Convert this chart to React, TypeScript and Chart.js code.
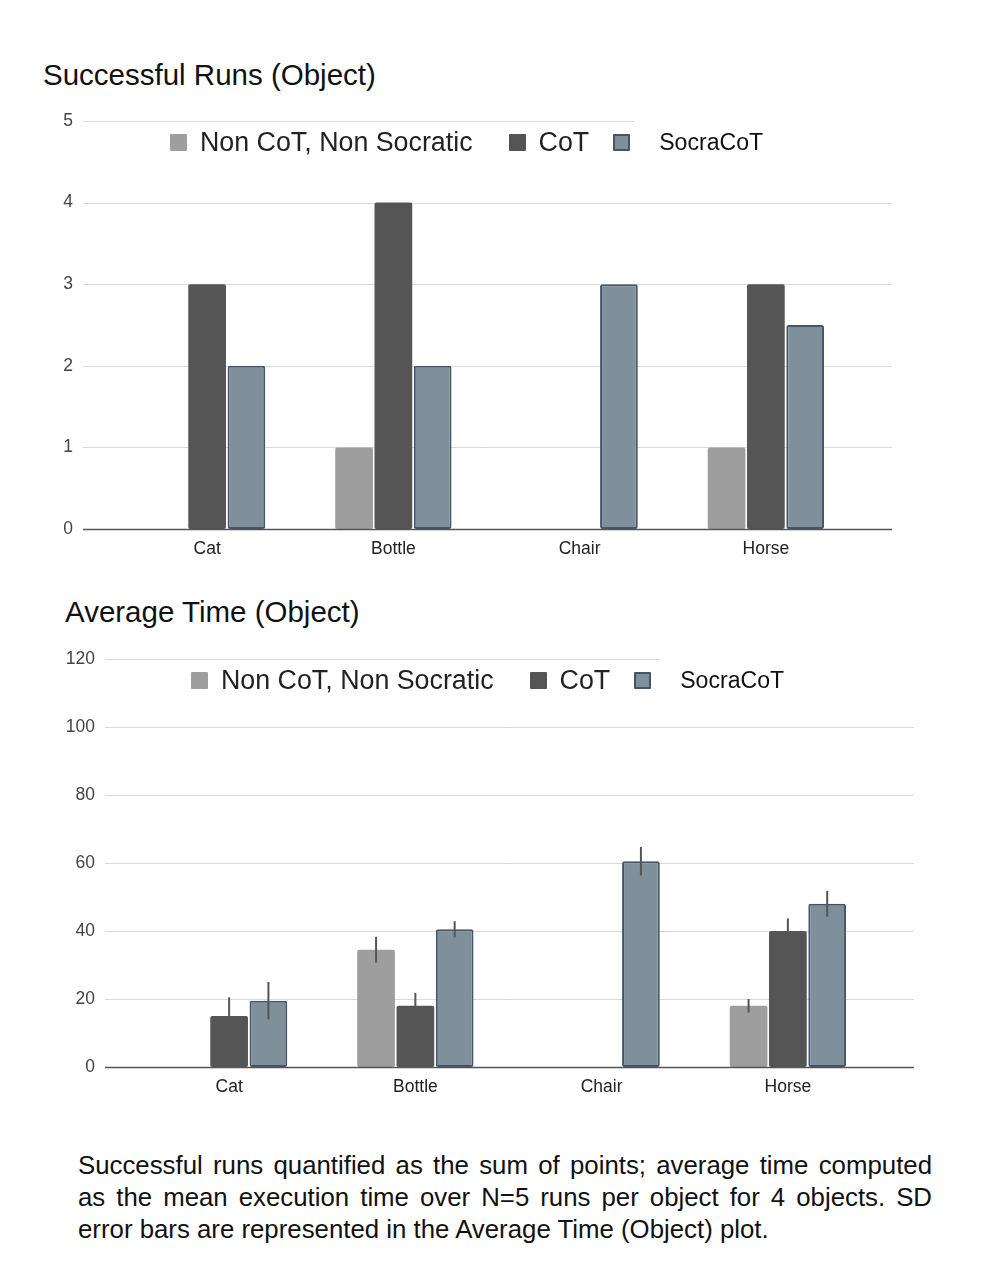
import React, { useEffect, useRef } from 'react';
import { Chart, registerables } from 'chart.js';

Chart.register(...registerables);
Chart.defaults.font.family = "'Liberation Sans', Arial, sans-serif";

const categories = ['Cat', 'Bottle', 'Chair', 'Horse'];
const seriesNames = ['Non CoT, Non Socratic', 'CoT', 'SocraCoT'];

// Successful runs (sum of points)
const runsNonCot = [0, 1, 0, 1];
const runsCot = [3, 4, 0, 3];
const runsSocra = [2, 2, 3, 2.5];

// Average time and SD
const timeNonCot = [0, 34.5, 0, 18];
const timeCot = [15, 18, 0, 40];
const timeSocra = [19.5, 40.5, 60.5, 48];
const sdNonCot = [0, 3.8, 0, 2];
const sdCot = [5.5, 3.8, 0, 3.7];
const sdSocra = [5.5, 2.4, 4.2, 3.8];

const FONT = "'Liberation Sans', Arial, sans-serif";
const COLORS = ['#9e9e9e', '#555555', '#7f909b'];
const SOCRA_BORDER = '#44546a';

interface BarChartProps {
    top: number;
    height: number;
    series: number[][];
    sd?: number[][];
    max: number;
    step: number;
    gridStart: number;
    gridEnd: number;
    topLineEnd: number;
    padRight: number;
}

const BarChart: React.FC<BarChartProps> = ({ top, height, series, sd, max, step, gridStart, gridEnd, topLineEnd, padRight }) => {
    const canvasRef = useRef<HTMLCanvasElement | null>(null);

    useEffect(() => {
        if (!canvasRef.current) return;

        // long horizontal gridlines that reach past the category area
        const gridPlugin = {
            id: 'longGrid',
            beforeDatasetsDraw(chart: any) {
                const { ctx } = chart;
                const y = chart.scales.y;
                ctx.save();
                ctx.lineWidth = 1;
                ctx.strokeStyle = '#d9d9d9';
                y.ticks.forEach((t: any) => {
                    if (t.value === 0) return;
                    const py = Math.round(y.getPixelForValue(t.value)) + 0.5;
                    ctx.beginPath();
                    ctx.moveTo(gridStart, py);
                    ctx.lineTo(t.value === max ? topLineEnd : gridEnd, py);
                    ctx.stroke();
                });
                ctx.restore();
            },
            afterDatasetsDraw(chart: any) {
                const { ctx } = chart;
                const y = chart.scales.y;
                ctx.save();
                if (sd) {
                    ctx.strokeStyle = '#555555';
                    ctx.lineWidth = 2;
                    chart.data.datasets.forEach((ds: any, i: number) => {
                        const meta = chart.getDatasetMeta(i);
                        meta.data.forEach((bar: any, j: number) => {
                            const v = ds.data[j];
                            const e = sd[i][j];
                            if (!v || !e) return;
                            ctx.beginPath();
                            ctx.moveTo(bar.x, y.getPixelForValue(v + e));
                            ctx.lineTo(bar.x, y.getPixelForValue(v - e));
                            ctx.stroke();
                        });
                    });
                }
                const py = Math.round(y.getPixelForValue(0)) + 0.5;
                ctx.strokeStyle = '#555555';
                ctx.lineWidth = 1.3;
                ctx.beginPath();
                ctx.moveTo(gridStart, py);
                ctx.lineTo(gridEnd, py);
                ctx.stroke();
                ctx.restore();
            },
        };

        const chart = new Chart(canvasRef.current, {
            type: 'bar',
            data: {
                labels: categories,
                datasets: series.map((d, i) => ({
                    label: seriesNames[i],
                    data: d,
                    backgroundColor: COLORS[i],
                    borderColor: i === 2 ? SOCRA_BORDER : COLORS[i],
                    borderWidth: i === 2 ? 2 : 0,
                    borderRadius: 2,
                    borderSkipped: false,
                    categoryPercentage: 0.633,
                    barPercentage: 0.96,
                })),
            },
            options: {
                animation: false,
                responsive: false,
                maintainAspectRatio: false,
                layout: { padding: { top: 26, right: padRight, bottom: 0, left: 0 } },
                plugins: {
                    legend: { display: false },
                    tooltip: { enabled: false },
                },
                scales: {
                    x: {
                        grid: { display: false, drawTicks: false },
                        border: { display: false },
                        ticks: { color: '#222222', font: { size: 17.5, family: FONT }, padding: 10 },
                        afterFit: (scale: any) => { scale.height = 46; },
                    },
                    y: {
                        min: 0,
                        max: max,
                        grid: { display: false, drawTicks: false },
                        border: { display: false },
                        ticks: { stepSize: step, color: '#444444', font: { size: 17.5, family: FONT }, padding: 41 },
                        afterFit: (scale: any) => {
                            scale.width = gridStart + 31;
                            scale.paddingTop = 0;
                            scale.paddingBottom = 0;
                        },
                    },
                },
            },
            plugins: [gridPlugin],
        });

        return () => {
            chart.destroy();
        };
    }, [series, sd, max, step, gridStart, gridEnd, topLineEnd, padRight]);

    return (
        <div style={{ position: 'absolute', left: 0, top: top, width: 1000, height: height }}>
            <canvas ref={canvasRef} width={1000} height={height} style={{ width: 1000, height: height }} />
        </div>
    );
};

const Legend: React.FC<{ left: number; top: number }> = ({ left, top }) => {
    const box = (i: number) => (
        <span
            style={{
                display: 'inline-block',
                width: i === 2 ? 13 : 17,
                height: i === 2 ? 13 : 17,
                background: COLORS[i],
                border: i === 2 ? `2px solid ${SOCRA_BORDER}` : 'none',
                borderRadius: 1,
            }}
        />
    );
    return (
        <div
            style={{
                position: 'absolute',
                left: left,
                top: top,
                height: 30,
                display: 'flex',
                alignItems: 'center',
                fontFamily: FONT,
                color: '#222',
                whiteSpace: 'nowrap',
            }}
        >
            {box(0)}
            <span style={{ marginLeft: 13, fontSize: 26.8 }}>{seriesNames[0]}</span>
            <span style={{ marginLeft: 36, display: 'flex' }}>{box(1)}</span>
            <span style={{ marginLeft: 13, fontSize: 26.8 }}>{seriesNames[1]}</span>
            <span style={{ marginLeft: 24, display: 'flex' }}>{box(2)}</span>
            <span style={{ marginLeft: 29, fontSize: 23.1, color: '#111' }}>{seriesNames[2]}</span>
        </div>
    );
};

const App: React.FC = () => {
    const titleStyle: React.CSSProperties = {
        position: 'absolute',
        fontFamily: FONT,
        fontSize: 29.5,
        lineHeight: '34px',
        color: '#111',
        whiteSpace: 'nowrap',
    };
    return (
        <div style={{ position: 'absolute', left: 0, top: 0, width: 1000, height: 1268, background: '#fff', overflow: 'hidden' }}>
            <div style={{ ...titleStyle, left: 43, top: 58 }}>Successful Runs (Object)</div>
            <BarChart
                top={95}
                height={480}
                series={[runsNonCot, runsCot, runsSocra]}
                max={5}
                step={1}
                gridStart={83}
                gridEnd={892}
                topLineEnd={634}
                padRight={141}
            />
            <Legend left={170} top={127} />

            <div style={{ ...titleStyle, left: 65, top: 595 }}>Average Time (Object)</div>
            <BarChart
                top={633}
                height={480}
                series={[timeNonCot, timeCot, timeSocra]}
                sd={[sdNonCot, sdCot, sdSocra]}
                max={120}
                step={20}
                gridStart={105}
                gridEnd={914}
                topLineEnd={660}
                padRight={119}
            />
            <Legend left={191} top={665} />

            <div
                style={{
                    position: 'absolute',
                    left: 78,
                    top: 1149,
                    width: 854,
                    fontFamily: FONT,
                    fontSize: 25.8,
                    lineHeight: '32px',
                    textAlign: 'justify',
                    color: '#111',
                }}
            >
                Successful runs quantified as the sum of points; average time computed as the mean execution time over N=5 runs per object for 4 objects. SD error bars are represented in the Average Time (Object) plot.
            </div>
        </div>
    );
};

export default App;
